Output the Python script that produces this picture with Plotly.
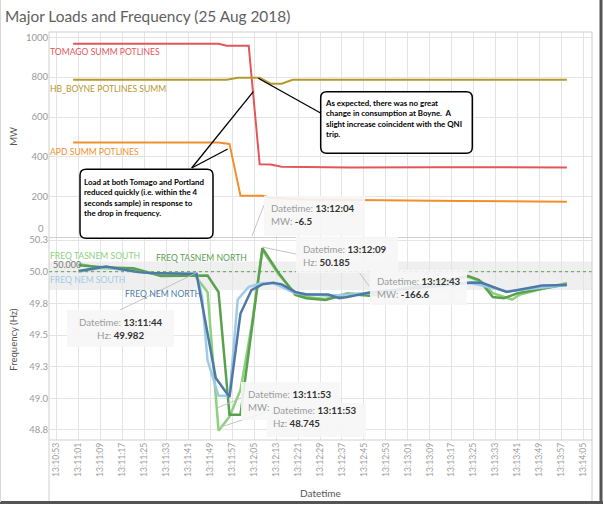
import plotly.graph_objects as go

DATE = "2018-08-25 "

# ---------------- data ----------------
tomago_time = ["13:10:59", "13:11:52", "13:11:55", "13:12:03", "13:12:07", "13:12:11", "13:12:15",
               "13:12:40", "13:13:10", "13:13:40", "13:13:59"]
tomago_mw = [967, 967, 958, 958, 363, 361, 350, 347, 348, 347, 347]

boyne_time = ["13:10:59", "13:11:55", "13:11:59", "13:12:07", "13:12:11", "13:12:15", "13:12:19", "13:13:59"]
boyne_mw = [787, 787, 797, 797, 767, 767, 787, 787]

apd_time = ["13:10:59", "13:11:52", "13:11:56", "13:12:00", "13:12:08", "13:12:11", "13:12:23",
            "13:12:45", "13:13:20", "13:13:59"]
apd_mw = [472, 472, 465, 205, 205, 195, 186, 182, 178, 175]

nem_north_time = ["13:11:01", "13:11:11", "13:11:22", "13:11:27", "13:11:44", "13:11:51", "13:11:56",
                  "13:12:00", "13:12:04", "13:12:08", "13:12:12", "13:12:15", "13:12:20", "13:12:24",
                  "13:12:32", "13:12:36", "13:12:39", "13:12:47", "13:13:24", "13:13:28", "13:13:37",
                  "13:13:42", "13:13:50", "13:13:59"]
nem_north_hz = [50.005, 50.04, 50.00, 49.99, 49.982, 49.16, 49.01, 49.67, 49.855, 49.90, 49.913, 49.90,
                49.84, 49.82, 49.82, 49.79, 49.80, 49.835, 49.915, 49.913, 49.84, 49.86, 49.89, 49.895]

nem_south_time = ["13:11:01", "13:11:11", "13:11:22", "13:11:27", "13:11:44", "13:11:46", "13:11:48",
                  "13:11:52", "13:11:56", "13:11:59", "13:12:03", "13:12:08", "13:12:12", "13:12:20",
                  "13:12:32", "13:12:47", "13:13:24", "13:13:37", "13:13:59"]
nem_south_hz = [50.0, 50.035, 50.0, 49.99, 49.985, 49.80, 49.30, 49.02, 49.02, 49.78, 49.88, 49.91,
                49.91, 49.83, 49.81, 49.83, 49.91, 49.845, 49.895]

tas_north_time = ["13:11:01", "13:11:11", "13:11:21", "13:11:27", "13:11:31", "13:11:48", "13:11:52",
                  "13:11:56", "13:12:00", "13:12:08", "13:12:14", "13:12:20", "13:12:24", "13:12:31",
                  "13:12:39", "13:12:47", "13:13:23", "13:13:27", "13:13:32", "13:13:36", "13:13:41",
                  "13:13:51", "13:13:59"]
tas_north_hz = [50.05, 50.034, 50.027, 49.99, 49.966, 49.97, 49.84, 48.87, 48.87, 50.185, 49.987, 49.816,
                49.79, 49.776, 49.824, 49.81, 49.966, 49.934, 49.80, 49.79, 49.83, 49.87, 49.90]

tas_south_time = ["13:11:01", "13:11:09", "13:11:21", "13:11:31", "13:11:43", "13:11:48", "13:11:52",
                  "13:11:56", "13:12:00", "13:12:04", "13:12:08", "13:12:14", "13:12:20", "13:12:24",
                  "13:12:31", "13:12:39", "13:12:47", "13:13:23", "13:13:28", "13:13:32", "13:13:39",
                  "13:13:42", "13:13:51", "13:13:59"]
tas_south_hz = [50.06, 50.03, 50.015, 49.975, 49.98, 49.84, 48.745, 48.855, 49.066, 49.566, 50.17, 49.975,
                49.83, 49.80, 49.785, 49.83, 49.82, 49.96, 49.92, 49.83, 49.78, 49.82, 49.87, 49.91]

mw_ticks = [0, 200, 400, 600, 800, 1000]
hz_ticks = [48.75, 49.0, 49.25, 49.5, 49.75, 50.0, 50.25]
hz_ticktext = ["48.8", "49.0", "49.3", "49.5", "49.8", "50.0", "50.3"]
nominal_hz = 50.0
band_low, band_high = 49.855, 50.08

C_TOMAGO = "#E15759"
C_BOYNE = "#B6992D"
C_APD = "#F28E2B"
C_NEMN = "#4E79A7"
C_NEMS = "#A0CBE8"
C_TASN = "#59A14F"
C_TASS = "#8CD17D"

FONT = "Lato"
GRID = "#e4e4e4"
BORDER = "#cfcfcf"

# pane geometry (pixels)
W, H = 604, 506
L, R, T, B = 49, 592, 32, 440
PW, PH = R - L, B - T


def px(x):
    return (x - L) / PW


def py(y):
    return (B - y) / PH


def t(lst):
    return [DATE + s for s in lst]


fig = go.Figure()

# top pane traces
fig.add_trace(go.Scatter(x=t(tomago_time), y=tomago_mw, mode="lines", line=dict(color=C_TOMAGO, width=2),
                         xaxis="x", yaxis="y", name="TOMAGO SUMM POTLINES"))
fig.add_trace(go.Scatter(x=t(boyne_time), y=boyne_mw, mode="lines", line=dict(color=C_BOYNE, width=2),
                         xaxis="x", yaxis="y", name="HB_BOYNE POTLINES SUMM"))
fig.add_trace(go.Scatter(x=t(apd_time), y=apd_mw, mode="lines", line=dict(color=C_APD, width=2),
                         xaxis="x", yaxis="y", name="APD SUMM POTLINES"))

# bottom pane traces
fig.add_trace(go.Scatter(x=t(tas_south_time), y=tas_south_hz, mode="lines", line=dict(color=C_TASS, width=2.5),
                         xaxis="x2", yaxis="y2", name="FREQ TASNEM SOUTH"))
fig.add_trace(go.Scatter(x=t(tas_north_time), y=tas_north_hz, mode="lines", line=dict(color=C_TASN, width=2.5),
                         xaxis="x2", yaxis="y2", name="FREQ TASNEM NORTH"))
fig.add_trace(go.Scatter(x=t(nem_south_time), y=nem_south_hz, mode="lines", line=dict(color=C_NEMS, width=2.5),
                         xaxis="x2", yaxis="y2", name="FREQ NEM SOUTH"))
fig.add_trace(go.Scatter(x=t(nem_north_time), y=nem_north_hz, mode="lines", line=dict(color=C_NEMN, width=2.5),
                         xaxis="x2", yaxis="y2", name="FREQ NEM NORTH"))

xrange = [DATE + "13:10:50.2", DATE + "13:14:08.15"]
xcommon = dict(type="date", range=xrange, showgrid=True, gridcolor=GRID, gridwidth=1,
               tick0=DATE + "13:10:53", dtick=8000, zeroline=False, showline=False, ticks="")

fig.update_layout(
    width=W, height=H,
    margin=dict(l=L, r=W - R, t=T, b=H - B, pad=0),
    paper_bgcolor="white", plot_bgcolor="white",
    showlegend=False,
    font=dict(family=FONT, color="#999999", size=9.5),
    xaxis=dict(domain=[0, 1], anchor="y", showticklabels=False, **xcommon),
    xaxis2=dict(domain=[0, 1], anchor="y2", matches="x", showticklabels=True, tickformat="%H:%M:%S",
                tickangle=-90, tickfont=dict(size=8.6, color="#a0a0a0", family=FONT), **xcommon),
    yaxis=dict(domain=[py(237.5), 1], anchor="x", range=[-4.8, 1026.6], tickvals=mw_ticks[1:],
               showgrid=True, gridcolor=GRID, zeroline=False, showline=False, ticks="",
               tickfont=dict(size=9.5, color="#999999", family=FONT)),
    yaxis2=dict(domain=[0, py(238)], anchor="x2", range=[48.671, 50.266], tickvals=hz_ticks,
                ticktext=hz_ticktext, showgrid=True, gridcolor=GRID, zeroline=False, showline=False,
                ticks="", tickfont=dict(size=9.5, color="#999999", family=FONT)),
)

shapes = []
# reference band and line (bottom pane)
shapes.append(dict(type="rect", xref="x2 domain", yref="y2", x0=0, x1=1, y0=band_low, y1=band_high,
                   fillcolor="rgba(225,225,225,0.55)", line=dict(width=0), layer="below"))
shapes.append(dict(type="line", xref="x2 domain", yref="y2", x0=0, x1=1, y0=nominal_hz, y1=nominal_hz,
                   line=dict(color=C_TASN, width=1, dash="dot"), layer="above"))


def pline(x0, y0, x1, y1, color=BORDER, width=1):
    return dict(type="line", xref="paper", yref="paper", x0=px(x0), y0=py(y0), x1=px(x1), y1=py(y1),
                line=dict(color=color, width=width), layer="above")


# pane borders
shapes += [
    pline(L, T, R, T), pline(L, 237.5, R, 237.5), pline(L, B, R, B),
    pline(L, T, L, 501), pline(R, T, R, 501),
]

# leader lines from tooltips
LEAD = "rgba(190,190,190,0.9)"
shapes += [
    pline(120, 310, 196, 273, LEAD), pline(217, 408, 241, 398, LEAD), pline(218, 428, 266, 412, LEAD),
    pline(262, 247, 296, 254, LEAD), pline(359, 272, 369, 286, LEAD), pline(252, 236, 264, 205, LEAD),
]

# tooltip boxes
TIPFILL = "rgba(246,246,246,0.9)"
tips = [(264, 196, 365, 236), (296, 237, 398, 273), (370, 270, 467, 305),
        (67, 310, 174, 347), (241, 382, 340, 420), (267, 403, 366, 437)]
for (x0, y0, x1, y1) in tips:
    shapes.append(dict(type="rect", xref="paper", yref="paper", x0=px(x0), x1=px(x1), y0=py(y1), y1=py(y0),
                       fillcolor=TIPFILL, line=dict(width=0), layer="above"))


def rrect(x0, y0, x1, y1, r):
    rx, ry = r / PW, r / PH
    a, b, c, d = px(x0), px(x1), py(y0), py(y1)  # c top, d bottom (paper)
    return (f"M {a+rx},{c} L {b-rx},{c} Q {b},{c} {b},{c-ry} L {b},{d+ry} Q {b},{d} {b-rx},{d} "
            f"L {a+rx},{d} Q {a},{d} {a},{d+ry} L {a},{c-ry} Q {a},{c} {a+rx},{c} Z")


# callout pointers and boxes
shapes += [
    pline(191.7, 168, 253.3, 91.7, "black", 1.3), pline(191.7, 168, 227.7, 149, "black", 1.3),
    pline(321, 113.3, 258.3, 78.3, "black", 1.3),
]
shapes.append(dict(type="path", xref="paper", yref="paper", path=rrect(80, 169.3, 213, 238.3, 6),
                   fillcolor="white", line=dict(color="black", width=1.5), layer="above"))
shapes.append(dict(type="path", xref="paper", yref="paper", path=rrect(320.7, 91.7, 472.3, 153.3, 6),
                   fillcolor="white", line=dict(color="black", width=1.5), layer="above"))

# outer frame shadow
shapes += [
    dict(type="line", xref="paper", yref="paper", x0=px(601), x1=px(601), y0=py(0), y1=py(503),
         line=dict(color="#555555", width=3)),
    dict(type="line", xref="paper", yref="paper", x0=px(0), x1=px(603), y0=py(502.5), y1=py(502.5),
         line=dict(color="#555555", width=3)),
    dict(type="line", xref="paper", yref="paper", x0=px(0.5), x1=px(0.5), y0=py(0), y1=py(502),
         line=dict(color="#d8d8d8", width=1)),
]
fig.update_layout(shapes=shapes)

ann = []


def text(x, y, s, color="#999999", size=9.5, xanchor="left", yanchor="middle", align="left", bold=False,
         angle=0):
    ann.append(dict(xref="paper", yref="paper", x=px(x), y=py(y), text=(f"<b>{s}</b>" if bold else s),
                    showarrow=False, xanchor=xanchor, yanchor=yanchor, align=align, textangle=angle,
                    font=dict(family=FONT, size=size, color=color), borderpad=0))


text(4, 16, "Major Loads and Frequency (25 Aug 2018)", color="#606060", size=15.4)
text(12.7, 136, "MW", color="#555555", size=9.5, xanchor="center", angle=-90)
text(12.7, 339, "Frequency (Hz)", color="#555555", size=9.5, xanchor="center", angle=-90)
text(320.5, 493.3, "Datetime", color="#555555", size=10, xanchor="center")
text(44.5, 229, "0", color="#999999", size=9.5, xanchor="right")

# series labels
LS = 8.6
text(49, 52.3, "TOMAGO SUMM POTLINES", color=C_TOMAGO, size=LS)
text(49, 89, "HB_BOYNE POTLINES SUMM", color=C_BOYNE, size=LS)
text(49, 151.7, "APD SUMM POTLINES", color=C_APD, size=LS)
text(49, 255.7, "FREQ TASNEM SOUTH", color=C_TASS, size=LS)
text(155, 257.7, "FREQ TASNEM NORTH", color=C_TASN, size=LS)
text(49, 280, "FREQ NEM SOUTH", color=C_NEMS, size=LS)
text(124, 294.3, "FREQ NEM NORTH", color=C_NEMN, size=LS)
text(52, 264.3, "50.000", color="#777777", size=9)

# callout texts
text(83, 175.5, "Load at both Tomago and Portland<br>reduced quickly (i.e. within the 4<br>"
     "seconds sample) in response to<br>the drop in frequency.", color="black", size=7.9, bold=True,
     yanchor="top")
text(324.3, 97, "As expected, there was no great<br>change in consumption at Boyne.  A<br>"
     "slight increase coincident with the QNI<br>trip.", color="black", size=7.9, bold=True, yanchor="top")

# tooltips
V = "#333333"


def tip(x, y, k1, v1, k2, v2, xanchor="left", align="left"):
    s = f"{k1}: <span style='color:{V}'><b>{v1}</b></span><br>{k2}:"
    if v2:
        s += f" <span style='color:{V}'><b>{v2}</b></span>"
    text(x, y, s, color="#9a9a9a", size=9.7, xanchor=xanchor, align=align)


tip(270, 214.3, "Datetime", "13:12:04", "MW", "-6.5")
tip(301.7, 255, "Datetime", "13:12:09", "Hz", "50.185")
tip(375.7, 287, "Datetime", "13:12:43", "MW", "-166.6")
tip(120.5, 328.7, "Datetime", "13:11:44", "Hz", "49.982", xanchor="center", align="center")
tip(246.7, 400.7, "Datetime", "13:11:53", "MW", "")
tip(271.7, 416.3, "Datetime", "13:11:53", "Hz", "48.745")

fig.update_layout(annotations=ann)
fig.write_html("out.html", config={"displayModeBar": False},
               post_script="document.body.style.margin='0px';document.body.style.padding='0px';")
